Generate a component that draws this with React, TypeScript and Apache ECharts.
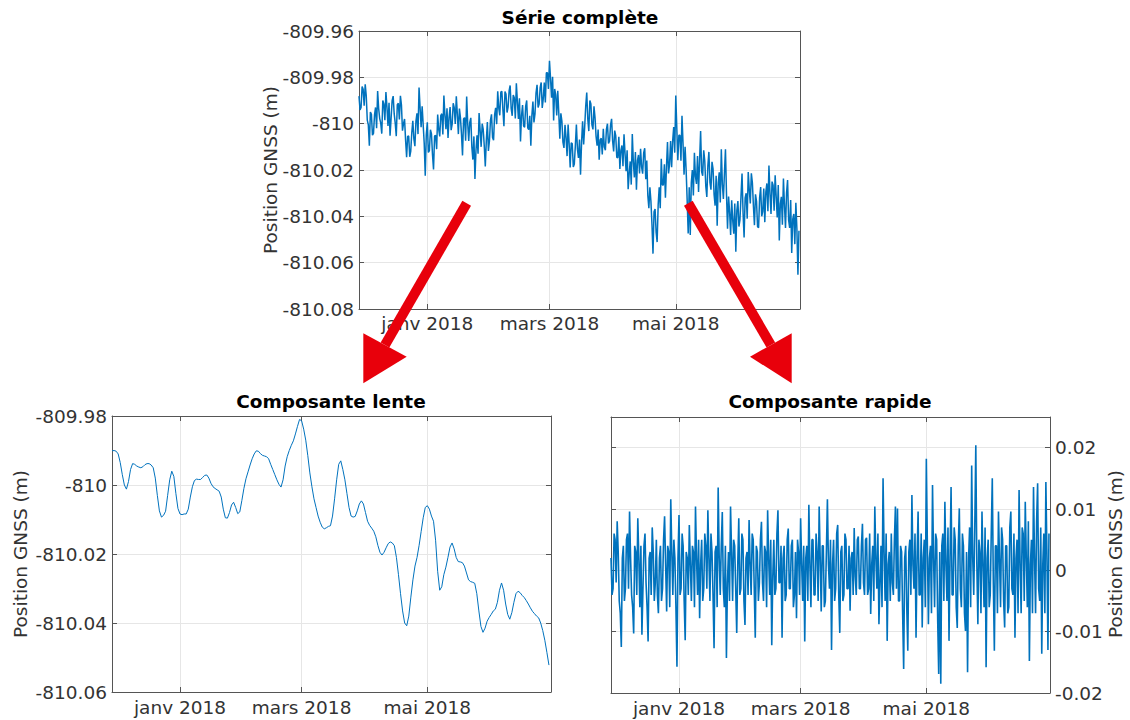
import React, { useEffect, useRef } from "react";
import * as echarts from "echarts";

// ---------- DATA ----------
const START_DATE = "2017-11-29";
const END_DATE = "2018-06-30";
const X_TICK_DATES = ["2018-01-01", "2018-03-01", "2018-05-01"];
const X_TICK_LABELS = ["janv 2018", "mars 2018", "mai 2018"];

const TITLES = ["Série complète", "Composante lente", "Composante rapide"];
const Y_NAME = "Position GNSS (m)";

const Y_FULL_RANGE = [-810.08, -809.96];
const Y_SLOW_RANGE = [-810.06, -809.98];
const Y_FAST_RANGE = [-0.02, 0.025];

// slow component, daily (m)
const SLOW = [
  -809.9901, -809.99, -809.9902, -809.991, -809.9935, -809.997, -810.0, -810.0012, -809.999, -809.9955,
  -809.9938, -809.994, -809.9945, -809.9948, -809.995, -809.9947, -809.9941, -809.9938, -809.9938, -809.9942,
  -809.995, -809.998, -810.003, -810.0075, -810.0093, -810.0088, -810.0076, -810.003, -809.9985, -809.996,
  -809.9975, -810.0025, -810.0068, -810.0084, -810.0086, -810.0084, -810.0084, -810.007, -810.0035, -810.0005,
  -809.9987, -809.9983, -809.9984, -809.9984, -809.9978, -809.9972, -809.9971, -809.998, -809.9995, -810.0005,
  -810.001, -810.0014, -810.0018, -810.0035, -810.007, -810.0095, -810.0096, -810.008, -810.0058, -810.005,
  -810.0065, -810.0083, -810.0078, -810.0045, -810.001, -809.9982, -809.9962, -809.9942, -809.9924, -809.991,
  -809.9901, -809.9902, -809.9909, -809.9914, -809.9916, -809.9918, -809.9924, -809.994, -809.9955, -809.997,
  -809.9985, -809.9998, -810.0006, -809.9985, -809.9945, -809.9918, -809.99, -809.9885, -809.9872, -809.9852,
  -809.983, -809.981, -809.9814, -809.9838, -809.987, -809.9915, -809.9965, -810.0005, -810.004, -810.0065,
  -810.009, -810.0108, -810.0122, -810.0127, -810.0124, -810.012, -810.0118, -810.009, -810.004, -809.9985,
  -809.994, -809.993, -809.9955, -809.9985, -810.0025, -810.0065, -810.009, -810.0093, -810.0091, -810.0075,
  -810.0055, -810.0046, -810.0055, -810.008, -810.0105, -810.0117, -810.0125, -810.0134, -810.015, -810.0175,
  -810.0195, -810.0203, -810.0195, -810.0182, -810.017, -810.0165, -810.0168, -810.0176, -810.021, -810.026,
  -810.0315, -810.0365, -810.04, -810.0408, -810.038, -810.0325, -810.0275, -810.0235, -810.021, -810.0175,
  -810.0135, -810.0095, -810.0065, -810.006, -810.007, -810.009, -810.0105, -810.016, -810.025, -810.0305,
  -810.0295, -810.026, -810.0238, -810.021, -810.018, -810.0168, -810.0185, -810.021, -810.0222, -810.0223,
  -810.0225, -810.0235, -810.0255, -810.0275, -810.028, -810.0282, -810.0285, -810.0315, -810.0365, -810.041,
  -810.0427, -810.0415, -810.0395, -810.0384, -810.0375, -810.0365, -810.036, -810.034, -810.0305, -810.0284,
  -810.0305, -810.0345, -810.0375, -810.0389, -810.037, -810.034, -810.0315, -810.0308, -810.0312, -810.032,
  -810.0326, -810.0335, -810.0345, -810.0356, -810.0366, -810.0373, -810.038, -810.0385, -810.04, -810.0422,
  -810.045, -810.0485, -810.0522,
];

// fast component, daily samples at 00h (m)
const FAST_AM = [
  0.002, -0.003, 0.005, 0.008, -0.005, -0.0125, 0.004, -0.003, 0.006, 0.0096,
  -0.004, -0.0103, 0.003, 0.0085, -0.006, -0.0105, 0.004, -0.002, -0.0116, 0.003,
  0.007, -0.005, 0.005, -0.007, 0.004, -0.003, 0.0088, -0.0067, 0.003, 0.0116,
  -0.004, 0.002, -0.0157, 0.009, -0.003, 0.004, -0.0114, 0.002, 0.0074, -0.005,
  0.003, 0.0104, -0.004, -0.0078, 0.005, -0.003, 0.004, 0.0098, -0.005, 0.003,
  -0.0127, 0.004, 0.0135, -0.004, 0.0095, -0.006, -0.0143, 0.003, 0.0104, -0.005,
  0.004, -0.0102, 0.0085, -0.003, 0.005, -0.0089, 0.003, 0.0082, -0.004, 0.005,
  -0.011, 0.003, -0.002, 0.0079, -0.005, 0.003, 0.0098, -0.004, -0.0122, 0.005,
  -0.003, 0.0098, -0.002, -0.011, 0.004, -0.004, 0.0068, -0.003, 0.005, -0.004,
  -0.0078, 0.003, 0.0085, -0.005, -0.0116, 0.004, 0.0107, -0.006, 0.005, -0.004,
  0.003, 0.0104, -0.0067, 0.004, -0.005, 0.0116, -0.003, -0.013, 0.005, -0.003,
  0.0074, -0.0102, 0.004, -0.004, 0.005, -0.003, -0.0066, 0.003, 0.0069, -0.004,
  0.0055, -0.003, 0.0076, -0.004, 0.0053, -0.003, -0.0071, 0.004, 0.0104, -0.003,
  -0.0088, 0.004, 0.015, -0.005, -0.0115, 0.003, 0.006, -0.004, 0.0104, 0.0101,
  -0.005, 0.003, -0.0161, 0.004, -0.0131, 0.005, 0.0123, -0.003, -0.011, 0.0096,
  -0.004, -0.0093, 0.005, 0.0182, -0.0088, 0.004, 0.0139, -0.006, 0.005, -0.0169,
  -0.0185, 0.006, 0.0112, -0.005, -0.0115, 0.0136, -0.004, 0.005, -0.0094, 0.0101,
  -0.006, 0.004, -0.0099, -0.0166, 0.007, 0.0171, -0.004, 0.0204, -0.0088, 0.003,
  0.0096, -0.006, -0.0158, 0.005, -0.004, 0.015, -0.0131, 0.004, 0.0096, -0.006,
  0.005, -0.0093, 0.004, -0.006, 0.0096, -0.004, -0.011, 0.005, 0.0131, -0.007,
  0.006, 0.0112, -0.006, -0.0148, 0.005, 0.0136, -0.007, 0.0142, -0.005, -0.0136,
  0.006, 0.0144, -0.013,
];

// fast component, daily samples at 12h (m)
const FAST_PM = [
  -0.004, 0.006, -0.002, 0.003, -0.007, 0.002, -0.005, 0.005, -0.003, 0.002,
  -0.006, 0.004, -0.004, 0.002, 0.004, -0.003, 0.006, -0.006, 0.002, -0.004,
  0.003, -0.002, -0.004, 0.002, -0.005, 0.005, 0.001, 0.004, -0.006, 0.003,
  0.005, -0.006, 0.002, -0.004, 0.006, -0.005, 0.003, -0.004, 0.001, 0.004,
  -0.006, 0.002, 0.005, 0.001, -0.005, 0.006, -0.003, 0.002, 0.006, -0.004,
  0.003, -0.006, 0.002, 0.004, -0.003, 0.004, -0.002, -0.005, 0.003, 0.005,
  -0.003, 0.001, -0.004, 0.006, -0.005, 0.002, -0.004, 0.001, 0.006, -0.003,
  0.004, -0.005, 0.005, -0.002, 0.004, -0.006, 0.002, 0.005, -0.001, -0.004,
  0.006, -0.002, 0.004, 0.002, -0.005, 0.005, -0.003, 0.004, -0.006, 0.003,
  0.005, -0.004, 0.001, 0.004, 0.002, -0.005, 0.001, 0.005, -0.004, 0.006,
  -0.005, 0.002, 0.004, -0.006, 0.003, 0.001, 0.005, 0.001, -0.005, 0.006,
  -0.004, 0.003, -0.005, 0.006, -0.003, 0.004, 0.002, -0.004, -0.001, 0.005,
  -0.003, 0.004, -0.002, 0.005, -0.004, 0.006, 0.001, -0.005, 0.002, 0.006,
  -0.002, -0.006, 0.003, 0.006, 0.001, -0.005, -0.002, 0.005, -0.003, -0.005,
  0.004, -0.007, 0.002, -0.006, 0.003, -0.004, 0.001, 0.006, 0.002, -0.004,
  0.006, 0.002, -0.006, 0.004, 0.002, -0.007, 0.002, 0.006, -0.008, 0.003,
  0.004, -0.005, 0.001, 0.007, 0.002, -0.004, 0.007, -0.006, 0.004, -0.003,
  0.006, -0.007, 0.003, 0.002, -0.006, 0.002, 0.007, 0.001, 0.005, -0.007,
  0.001, 0.007, 0.002, -0.006, 0.006, -0.002, 0.004, -0.007, 0.002, 0.007,
  -0.005, 0.004, -0.007, 0.007, -0.003, 0.006, 0.002, -0.007, 0.001, 0.007,
  -0.005, 0.002, 0.008, 0.001, -0.007, 0.002, 0.008, -0.003, 0.007, 0.001,
  -0.007, 0.003, 0.006,
];

// ---------- helpers ----------
const DAY_MS = 86400000;
const toTs = (d: string) => Date.parse(d + "T00:00:00Z");
const X_MIN = toTs(START_DATE);
const X_MAX = toTs(END_DATE);
const X_TICKS = X_TICK_DATES.map(toTs);

// [time, value] pairs: 00h sample then 12h sample of each day
const FAST_PTS: number[][] = [];
const FULL_PTS: number[][] = [];
const SLOW_PTS: number[][] = [];
SLOW.forEach((s, i) => {
  const t0 = X_MIN + i * DAY_MS;
  const t1 = t0 + DAY_MS / 2;
  SLOW_PTS.push([t0, s]);
  FAST_PTS.push([t0, FAST_AM[i]], [t1, FAST_PM[i]]);
  // complete series = slow + fast
  FULL_PTS.push([t0, Number((s + FAST_AM[i]).toFixed(5))], [t1, Number((s + FAST_PM[i]).toFixed(5))]);
});

const FONT = "DejaVu Sans";
const TEXT = "#333333";
const FRAME = "#555555";
const GRIDLINE = "#e6e6e6";
const BLUE = "#0072BD";
const RED = "#e8000b";
const FS = 18.5;

const fmtNum = (v: number) => String(Number(v.toFixed(4)));

const GRIDS = [
  { left: 359, top: 31, width: 441, height: 278 },
  { left: 112, top: 416, width: 439, height: 276 },
  { left: 611, top: 417, width: 439, height: 276 },
];

function xAxes(gi: number) {
  return [
    {
      type: "value", gridIndex: gi, position: "bottom", min: X_MIN, max: X_MAX,
      axisLine: { show: true, onZero: false, lineStyle: { color: FRAME, width: 1 } },
      axisTick: { show: true, inside: true, length: 5, customValues: X_TICKS, lineStyle: { color: FRAME } },
      axisLabel: {
        show: true, customValues: X_TICKS, margin: gi === 0 ? 5 : 6,
        color: TEXT, fontFamily: FONT, fontSize: FS,
        formatter: (v: number) => { const i = X_TICKS.indexOf(v); return i >= 0 ? X_TICK_LABELS[i] : ""; },
      },
      splitLine: { show: true, lineStyle: { color: GRIDLINE, width: 1 } },
    },
    {
      type: "value", gridIndex: gi, position: "top", min: X_MIN, max: X_MAX,
      axisLine: { show: true, onZero: false, lineStyle: { color: FRAME, width: 1 } },
      axisTick: { show: true, inside: true, length: 5, customValues: X_TICKS, lineStyle: { color: FRAME } },
      axisLabel: { show: false },
      splitLine: { show: false },
    },
  ];
}

function yAxes(gi: number, range: number[], labelSide: "left" | "right", hideMax: boolean) {
  const other = labelSide === "left" ? "right" : "left";
  return [
    {
      type: "value", gridIndex: gi, position: labelSide, min: range[0], max: range[1], interval: 0.01 * (gi === 2 ? 1 : 2),
      axisLine: { show: true, onZero: false, lineStyle: { color: FRAME, width: 1 } },
      axisTick: { show: true, inside: true, length: 5, lineStyle: { color: FRAME } },
      axisLabel: {
        show: true, margin: 5, color: TEXT, fontFamily: FONT, fontSize: FS,
        formatter: fmtNum, showMaxLabel: !hideMax,
      },
      splitLine: { show: true, lineStyle: { color: GRIDLINE, width: 1 } },
    },
    {
      type: "value", gridIndex: gi, position: other, min: range[0], max: range[1], interval: 0.01 * (gi === 2 ? 1 : 2),
      axisLine: { show: true, onZero: false, lineStyle: { color: FRAME, width: 1 } },
      axisTick: { show: true, inside: true, length: 5, lineStyle: { color: FRAME } },
      axisLabel: { show: false },
      splitLine: { show: false },
    },
  ];
}

function arrow(start: number[], tip: number[], c1: number[], c2: number[]) {
  const mid = [(c1[0] + c2[0]) / 2, (c1[1] + c2[1]) / 2];
  return [
    { type: "line", z: 100, shape: { x1: start[0], y1: start[1], x2: mid[0], y2: mid[1] }, style: { stroke: RED, lineWidth: 10, lineCap: "butt" } },
    { type: "polygon", z: 100, shape: { points: [tip, c1, c2] }, style: { fill: RED } },
  ];
}

function text(x: number, y: number, t: string, bold: boolean, rot = 0) {
  return {
    type: "text", x, y, rotation: rot, z: 50,
    style: {
      text: t, fill: bold ? "#000000" : TEXT, fontFamily: FONT, fontSize: FS,
      fontWeight: bold ? "bold" : "normal", align: "center", verticalAlign: "middle",
    },
  };
}

export default function App() {
  const ref = useRef<HTMLDivElement>(null);
  useEffect(() => {
    if (!ref.current) return;
    const chart = echarts.init(ref.current, null, { renderer: "svg" });
    const lineSeries = (data: number[][], xi: number, yi: number, width: number) => ({
      type: "line", xAxisIndex: xi, yAxisIndex: yi, data,
      showSymbol: false, symbol: "none", silent: true,
      lineStyle: { color: BLUE, width }, itemStyle: { color: BLUE },
    });
    chart.setOption({
      animation: false,
      backgroundColor: "#ffffff",
      grid: GRIDS.map((g) => ({ ...g, containLabel: false, outerBoundsMode: "none", show: false })),
      xAxis: [...xAxes(0), ...xAxes(1), ...xAxes(2)],
      yAxis: [
        ...yAxes(0, Y_FULL_RANGE, "left", false),
        ...yAxes(1, Y_SLOW_RANGE, "left", false),
        ...yAxes(2, Y_FAST_RANGE, "right", true),
      ],
      series: [
        lineSeries(FULL_PTS, 0, 0, 1.5),
        lineSeries(SLOW_PTS, 2, 2, 1),
        lineSeries(FAST_PTS, 4, 4, 1.6),
      ],
      graphic: {
        elements: [
          text(580, 17, TITLES[0], true),
          text(331, 401, TITLES[1], true),
          text(830, 401, TITLES[2], true),
          text(270, 170, Y_NAME, false, Math.PI / 2),
          text(20, 554, Y_NAME, false, Math.PI / 2),
          text(1115, 554, Y_NAME, false, Math.PI / 2),
          ...arrow([466.7, 203.3], [363.3, 383.3], [363.3, 333.3], [406.7, 356.7]),
          ...arrow([688.3, 203.3], [791.7, 383.3], [750, 356.7], [791.7, 333.3]),
        ],
      },
    });
    return () => chart.dispose();
  }, []);
  return (
    <div
      ref={ref}
      style={{ position: "fixed", left: 0, top: 0, width: 1130, height: 720, background: "#fff" }}
    />
  );
}
